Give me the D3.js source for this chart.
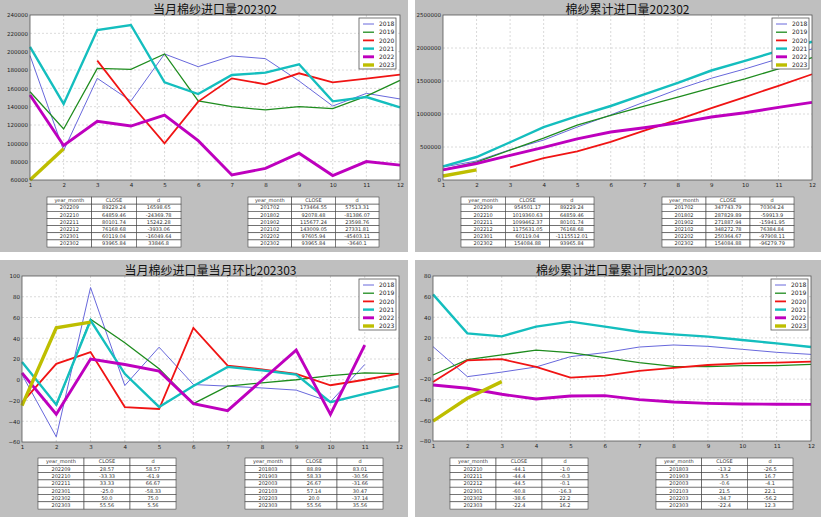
<!DOCTYPE html>
<html>
<head>
<meta charset="utf-8">
<script src="https://cdn.jsdelivr.net/npm/d3@7"></script>
<style>
  body { margin: 0; background: #fff; }
  svg { display: block; }
  text { font-family: "DejaVu Sans", "Noto Sans CJK SC", sans-serif; }
</style>
</head>
<body>
<div id="chart"></div>
<script>
const width = 821;
const height = 517;

const months = [1, 2, 3, 4, 5, 6, 7, 8, 9, 10, 11, 12];
const years = ["2018", "2019", "2020", "2021", "2022", "2023"];
const colors = ["#6868dc", "#1e8c1e", "#f01414", "#14bebe", "#be00be", "#bebe00"];
const widths = [1, 1.3, 1.8, 2.4, 2.9, 3.4];

// monthly import volume
const monthly2018 = [195751, 92078, 170900, 146200, 197500, 183600, 195300, 192400, 168000, 140700, 154500, 148400];
const monthly2019 = [156211, 115677, 181800, 180700, 197500, 146200, 140000, 136400, 140000, 137800, 151600, 168700];
const monthly2020 = [null, null, 190200, 142900, 100000, 145500, 170900, 164400, 176400, 166500, 170500, 174900];
const monthly2021 = [205264, 143009, 223600, 229100, 166500, 153800, 174500, 177100, 186200, 145800, 150500, 139300];
const monthly2022 = [152759, 97606, 124000, 118900, 130900, 102900, 65500, 72700, 89229, 64859, 80102, 76169];
const monthly2023 = [60119, 93966];
const monthlyTicks = [60000, 80000, 100000, 120000, 140000, 160000, 180000, 200000, 220000, 240000];

// cumulative import volume
const cum2018 = [195751, 287829, 458729, 604929, 802429, 986029, 1181329, 1373729, 1541729, 1682429, 1836929, 1985329];
const cum2019 = [156211, 271888, 453688, 634388, 831888, 978088, 1118088, 1254488, 1394488, 1532288, 1683888, 1852588];
const cum2020 = [null, null, 190200, 333100, 433100, 578600, 749500, 913900, 1090300, 1256800, 1427300, 1602200];
const cum2021 = [205264, 348273, 571873, 800973, 967473, 1121273, 1295773, 1472873, 1659073, 1804873, 1955373, 2094673];
const cum2022 = [152759, 250365, 374365, 493265, 624165, 727065, 792565, 865265, 954501, 1019361, 1099462, 1175631];
const cum2023 = [60119, 154085];
const cumTicks = [0, 500000, 1000000, 1500000, 2000000, 2500000];

// month-on-month change
const mom2018 = [5, -55, 88.89, -5.6, 31.4, -4.6, -6.2, -7.9, -10, -21.4, 14.7, null];
const mom2019 = [null, -25, 58.33, 35.6, 10.5, -23, -6.2, -3, 0, 4, 6.6, 6];
const mom2020 = [-22, 15.3, 26.67, -26.3, -28.2, 50, 13.7, 10, 5.7, -5.3, 0, 6];
const mom2021 = [17, -24, 57.14, 5.7, -26.2, -6, 12.4, 9, 5, -21.7, -13.6, -6.2];
const mom2022 = [6.6, -33.3, 20, 14.7, 8.3, -23, -29.7, -0.5, 28.57, -33.33, 33.33, null];
const mom2023 = [-25, 50, 55.56];
const momTicks = [-60, -40, -20, 0, 20, 40, 60, 80, 100];

// cumulative year-on-year change
const yoy2018 = [11.5, -17.6, -13.2, -8.2, 1.8, 5.7, 11.1, 13.1, 11.8, 8.9, 6, 4];
const yoy2019 = [-16, -1.1, 3.5, 8.2, 5.7, 0.8, -4, -7.6, -7.9, -7, -7, -5.7];
const yoy2020 = [-22.8, -1.8, -0.6, -8.2, -18.6, -16.6, -12, -9, -6.3, -4.7, -4, -3];
const yoy2021 = [62.2, 24.4, 21.5, 30.9, 35.7, 30.9, 26, 23.4, 21.2, 17.9, 14.7, 11.1];
const yoy2022 = [-25.7, -28.9, -34.7, -39.3, -36.3, -36, -39.9, -42.2, -43.5, -44.1, -44.4, -44.5];
const yoy2023 = [-60.8, -38.6, -22.4];
const yoyTicks = [-80, -60, -40, -20, 0, 20, 40, 60, 80];

const tableHeader = ["year_month", "CLOSE", "d"];
const monthlyTableA = [
  ["202209", "89229.24", "16598.65"], ["202210", "64859.46", "-24369.78"], ["202211", "80101.74", "15242.28"],
  ["202212", "76168.68", "-3933.06"], ["202301", "60119.04", "-16049.64"], ["202302", "93965.84", "33846.8"]];
const monthlyTableB = [
  ["201702", "173464.55", "57513.31"], ["201802", "92078.48", "-81386.07"], ["201902", "115677.24", "23598.76"],
  ["202102", "143009.05", "27331.81"], ["202202", "97605.94", "-45403.11"], ["202302", "93965.84", "-3640.1"]];
const cumTableA = [
  ["202209", "954501.17", "89229.24"], ["202210", "1019360.63", "64859.46"], ["202211", "1099462.37", "80101.74"],
  ["202212", "1175631.05", "76168.68"], ["202301", "60119.04", "-1115512.01"], ["202302", "154084.88", "93965.84"]];
const cumTableB = [
  ["201702", "347743.79", "70304.24"], ["201802", "287829.89", "-59913.9"], ["201902", "271887.94", "-15941.95"],
  ["202102", "348272.78", "76384.84"], ["202202", "250364.67", "-97908.11"], ["202302", "154084.88", "-96279.79"]];
const momTableA = [
  ["202209", "28.57", "58.57"], ["202210", "-33.33", "-61.9"], ["202211", "33.33", "66.67"],
  ["202301", "-25.0", "-58.33"], ["202302", "50.0", "75.0"], ["202303", "55.56", "5.56"]];
const momTableB = [
  ["201803", "88.89", "83.01"], ["201903", "58.33", "-30.56"], ["202003", "26.67", "-31.66"],
  ["202103", "57.14", "30.47"], ["202203", "20.0", "-37.14"], ["202303", "55.56", "35.56"]];
const yoyTableA = [
  ["202210", "-44.1", "-1.0"], ["202211", "-44.4", "-0.3"], ["202212", "-44.5", "-0.1"],
  ["202301", "-60.8", "-16.3"], ["202302", "-38.6", "22.2"], ["202303", "-22.4", "16.2"]];
const yoyTableB = [
  ["201803", "-13.2", "-26.5"], ["201903", "3.5", "16.7"], ["202003", "-0.6", "-4.1"],
  ["202103", "21.5", "22.1"], ["202203", "-34.7", "-56.2"], ["202303", "-22.4", "12.3"]];

const panels = [
  { title: "当月棉纱进口量202302", bg: [0, 0, 408, 252], plot: [30, 15, 400, 180],
    series: [monthly2018, monthly2019, monthly2020, monthly2021, monthly2022, monthly2023],
    ticks: monthlyTicks, legend: [359, 18],
    tables: [{ x: 47, y: 197, w: 134, rh: 7.15, rows: monthlyTableA }, { x: 248, y: 197, w: 131, rh: 7.15, rows: monthlyTableB }] },
  { title: "棉纱累计进口量202302", bg: [415, 0, 406, 252], plot: [443, 15, 812, 180],
    series: [cum2018, cum2019, cum2020, cum2021, cum2022, cum2023],
    ticks: cumTicks, legend: [772, 18],
    tables: [{ x: 461, y: 197, w: 133, rh: 7.15, rows: cumTableA }, { x: 662, y: 197, w: 132, rh: 7.15, rows: cumTableB }] },
  { title: "当月棉纱进口量当月环比202303", bg: [0, 260, 408, 257], plot: [22, 276, 399, 442],
    series: [mom2018, mom2019, mom2020, mom2021, mom2022, mom2023],
    ticks: momTicks, legend: [359, 279],
    tables: [{ x: 38, y: 458, w: 138, rh: 7.3, rows: momTableA }, { x: 245, y: 458, w: 138, rh: 7.3, rows: momTableB }] },
  { title: "棉纱累计进口量累计同比202303", bg: [415, 260, 406, 257], plot: [433, 276, 811, 441],
    series: [yoy2018, yoy2019, yoy2020, yoy2021, yoy2022, yoy2023],
    ticks: yoyTicks, legend: [771, 279],
    tables: [{ x: 450, y: 458, w: 138, rh: 7.3, rows: yoyTableA }, { x: 656, y: 458, w: 137, rh: 7.3, rows: yoyTableB }] }
];

const svg = d3.select("#chart").append("svg")
  .attr("width", width).attr("height", height)
  .attr("viewBox", `0 0 ${width} ${height}`);

svg.append("rect").attr("width", width).attr("height", height).attr("fill", "#fff");

panels.forEach((p) => {
  const g = svg.append("g");
  g.append("rect")
    .attr("x", p.bg[0]).attr("y", p.bg[1]).attr("width", p.bg[2]).attr("height", p.bg[3])
    .attr("fill", "#bfbfbf");

  const [x0, y0, x1, y1] = p.plot;
  const x = d3.scaleLinear().domain([1, 12]).range([x0, x1]);
  const y = d3.scaleLinear().domain(d3.extent(p.ticks)).range([y1, y0]);

  g.append("rect").attr("x", x0).attr("y", y0).attr("width", x1 - x0).attr("height", y1 - y0)
    .attr("fill", "#fff");

  // grid
  g.append("g").selectAll("line").data(months.slice(1, -1)).join("line")
    .attr("x1", (d) => x(d)).attr("x2", (d) => x(d)).attr("y1", y0).attr("y2", y1)
    .attr("stroke", "#d0d0d0").attr("stroke-width", 0.8).attr("stroke-dasharray", "2,2");
  g.append("g").selectAll("line").data(p.ticks.slice(1, -1)).join("line")
    .attr("x1", x0).attr("x2", x1).attr("y1", (d) => y(d)).attr("y2", (d) => y(d))
    .attr("stroke", "#d0d0d0").attr("stroke-width", 0.8).attr("stroke-dasharray", "2,2");

  // axes
  const xAxis = g.append("g").attr("transform", `translate(0,${y1})`)
    .call(d3.axisBottom(x).tickValues(months).tickSize(0).tickPadding(3).tickFormat(d3.format("d")));
  const yAxis = g.append("g").attr("transform", `translate(${x0},0)`)
    .call(d3.axisLeft(y).tickValues(p.ticks).tickSize(0).tickPadding(2).tickFormat(d3.format("d")));
  [xAxis, yAxis].forEach((a) => {
    a.select(".domain").remove();
    a.selectAll("text").attr("font-size", 5.5).attr("fill", "#222")
      .style("font-family", "DejaVu Sans, sans-serif");
  });

  // lines
  const line = d3.line()
    .defined((d) => d != null)
    .x((d, i) => x(months[i]))
    .y((d) => y(d));
  p.series.forEach((s, i) => {
    g.append("path").datum(s)
      .attr("fill", "none")
      .attr("stroke", colors[i])
      .attr("stroke-width", widths[i])
      .attr("stroke-linejoin", "miter")
      .attr("d", line);
  });

  g.append("rect").attr("x", x0).attr("y", y0).attr("width", x1 - x0).attr("height", y1 - y0)
    .attr("fill", "none").attr("stroke", "#555").attr("stroke-width", 0.8);

  // title
  g.append("text")
    .attr("x", (x0 + x1) / 2).attr("y", y0 - 1.5)
    .attr("text-anchor", "middle")
    .attr("font-size", 12)
    .attr("fill", "#111")
    .style("font-family", "'Noto Sans CJK SC', sans-serif")
    .text(p.title);

  // legend
  const [lx, ly] = p.legend;
  const lg = g.append("g").attr("transform", `translate(${lx},${ly})`);
  lg.append("rect").attr("width", 37).attr("height", 51)
    .attr("fill", "#fff").attr("stroke", "#555").attr("stroke-width", 0.8);
  years.forEach((yr, i) => {
    const cy = 6 + i * 8.2;
    lg.append("line").attr("x1", 4).attr("x2", 15).attr("y1", cy).attr("y2", cy)
      .attr("stroke", colors[i]).attr("stroke-width", widths[i]);
    lg.append("text").attr("x", 20).attr("y", cy).attr("dy", "0.35em")
      .attr("font-size", 6).attr("fill", "#222").text(yr);
  });

  // tables
  p.tables.forEach((t) => {
    const rows = [tableHeader, ...t.rows];
    const cw = t.w / 3;
    const tg = g.append("g").attr("transform", `translate(${t.x},${t.y})`);
    rows.forEach((r, ri) => {
      r.forEach((c, ci) => {
        tg.append("rect")
          .attr("x", ci * cw).attr("y", ri * t.rh).attr("width", cw).attr("height", t.rh)
          .attr("fill", "#fff").attr("stroke", "#444").attr("stroke-width", 0.6);
        tg.append("text")
          .attr("x", ci * cw + cw / 2).attr("y", ri * t.rh + t.rh / 2)
          .attr("dy", "0.35em").attr("text-anchor", "middle")
          .attr("font-size", 5).attr("fill", "#333").text(c);
      });
    });
  });
});
</script>
</body>
</html>
